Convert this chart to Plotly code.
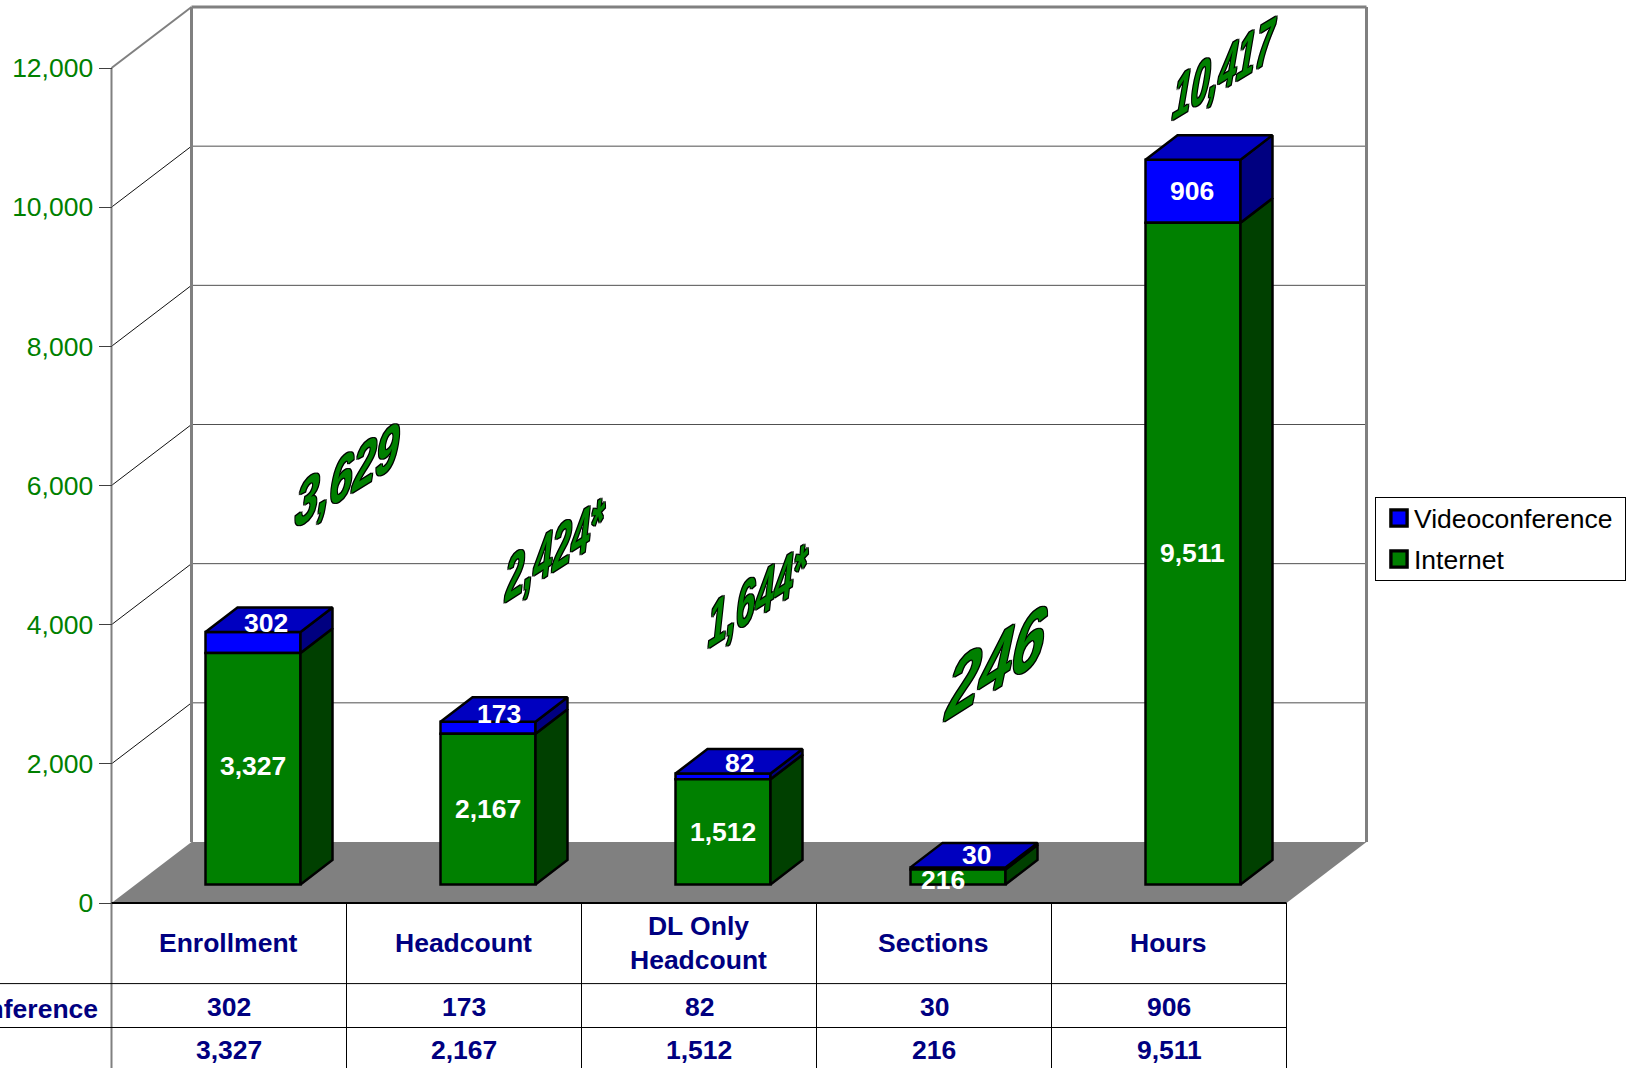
import json
import plotly.graph_objects as go

CATEGORIES = ["Enrollment", "Headcount", "DL Only<br>Headcount", "Sections", "Hours"]
VIDEOCONFERENCE = [302, 173, 82, 30, 906]
INTERNET = [3327, 2167, 1512, 216, 9511]
TOTAL_LABELS = ["3,629", "2,424*", "1,644*", "246", "10,417"]
Y_TICKS = [0, 2000, 4000, 6000, 8000, 10000, 12000]

W, H = 1632, 1068
FONT = "Liberation Sans"
FS = 26.5
GREEN, GREEN_D = "#008000", "#004000"
BLUE, BLUE_M, BLUE_D = "#0000FF", "#0000C0", "#000080"
NAVY = "#000080"

# axis calibration (pixel position of the category band and the value scale)
X0_PX, CAT_PX, Y0_PX = 111.5, 235.0, 903.0
S = 835.0 / 12000
x_range = [(0 - X0_PX) / CAT_PX - 0.5, (W - X0_PX) / CAT_PX - 0.5]
y_range = [(Y0_PX - H) / S, Y0_PX / S]
XL, XR = -0.5, 4.5
DX, DY = 80 / CAT_PX, 61 / S            # wall depth
BAR_DX, BAR_DY = 24 / CAT_PX, 18.5 / S  # bars sit inside the floor depth
SIDE_DX, SIDE_DY = 32 / CAT_PX, 24.5 / S
BAR_W = 95 / CAT_PX


def ypaper(p):
    return 1 - p / H


def xpaper(p):
    return p / W


fig = go.Figure()
shapes = []


def line(x0, y0, x1, y1, color, width, yref="y"):
    shapes.append(dict(type="line", xref="x", yref=yref, x0=x0, y0=y0, x1=x1, y1=y1,
                       line=dict(color=color, width=width), layer="below"))


# floor
shapes.append(dict(type="path", xref="x", yref="y", layer="below", fillcolor="#808080",
                   line=dict(width=0),
                   path=f"M{XL},0 L{XR},0 L{XR + DX},{DY} L{XL + DX},{DY} Z"))
# walls and grid
for v in Y_TICKS[1:-1]:
    line(XL + DX, v + DY, XR + DX, v + DY, "#505050", 1)
    line(XL, v, XL + DX, v + DY, "#101010", 1)
line(XL + DX, DY, XL + DX, 12000 + DY, "#808080", 3)
line(XR + DX, DY, XR + DX, 12000 + DY, "#808080", 3)
line(XL + DX, 12000 + DY, XR + DX, 12000 + DY, "#808080", 3)
line(XL, 12000, XL + DX, 12000 + DY, "#808080", 2)
line(XL, y_range[0], XL, 12000, "#808080", 2)
line(XL, 0, XR, 0, "#000000", 2)

# data table
for k in range(1, 6):
    xk = XL + k
    shapes.append(dict(type="line", xref="x", yref="y", x0=xk, x1=xk, y0=y_range[0], y1=0,
                       line=dict(color="#000000", width=1)))
for p in (983.6, 1027.5):
    shapes.append(dict(type="line", xref="x", yref="paper", x0=x_range[0], x1=XR,
                       y0=ypaper(p), y1=ypaper(p), line=dict(color="#000000", width=1)))

# front faces
xs = [i + BAR_DX for i in range(5)]
fig.add_trace(go.Bar(name="Videoconference", x=xs, y=VIDEOCONFERENCE,
                     base=[BAR_DY + v for v in INTERNET], width=BAR_W,
                     marker=dict(color=BLUE, line=dict(color="#000", width=2.5))))
fig.add_trace(go.Bar(name="Internet", x=xs, y=INTERNET, base=BAR_DY, width=BAR_W,
                     marker=dict(color=GREEN, line=dict(color="#000", width=2.5))))


def face(px, py, color):
    fig.add_trace(go.Scatter(x=px, y=py, mode="lines", fill="toself", fillcolor=color,
                             line=dict(color="#000", width=2.5), showlegend=False,
                             hoverinfo="skip"))


# side and top faces derived from the same values
for i in range(5):
    xr = xs[i] + BAR_W / 2
    xl = xs[i] - BAR_W / 2
    b0 = BAR_DY
    b1 = BAR_DY + INTERNET[i]
    b2 = b1 + VIDEOCONFERENCE[i]
    face([xr, xr + SIDE_DX, xr + SIDE_DX, xr, xr],
         [b0, b0 + SIDE_DY, b1 + SIDE_DY, b1, b0], GREEN_D)
    face([xr, xr + SIDE_DX, xr + SIDE_DX, xr, xr],
         [b1, b1 + SIDE_DY, b2 + SIDE_DY, b2, b1], BLUE_D)
    face([xl, xl + SIDE_DX, xr + SIDE_DX, xr, xl],
         [b2, b2 + SIDE_DY, b2 + SIDE_DY, b2, b2], BLUE_M)

ann = []


def text(s, x, y, color, size=FS, weight=700, xref="x", yref="y", xanchor="center",
         xshift=0, yshift=0):
    ann.append(dict(text=s, x=x, y=y, xref=xref, yref=yref, showarrow=False,
                    xanchor=xanchor, yanchor="middle", xshift=xshift, yshift=yshift,
                    font=dict(family=FONT, size=size, color=color, weight=weight)))


# value labels on the bars (a few are nudged as in the original)
INET_NUDGE = [(0, 2.5), (0, 0), (0, 0), (-15, -3), (-1, 1)]
VID_NUDGE = [(13, 19), (11, 14), (16, 13), (18, 13), (-1, 0)]
for i in range(5):
    b1 = BAR_DY + INTERNET[i]
    b2 = b1 + VIDEOCONFERENCE[i]
    text(f"{INTERNET[i]:,}", xs[i], BAR_DY + INTERNET[i] / 2, "#FFFFFF",
         xshift=INET_NUDGE[i][0], yshift=INET_NUDGE[i][1])
    text(f"{VIDEOCONFERENCE[i]:,}", xs[i], b1 + VIDEOCONFERENCE[i] / 2, "#FFFFFF",
         xshift=VID_NUDGE[i][0], yshift=VID_NUDGE[i][1])
    # table cells
    text(CATEGORIES[i], i, ypaper(942.5), NAVY, yref="paper", xshift=-1)
    text(f"{VIDEOCONFERENCE[i]:,}", i, ypaper(1006.5), NAVY, yref="paper")
    text(f"{INTERNET[i]:,}", i, ypaper(1050), NAVY, yref="paper")
text("Videoconference", xpaper(100), ypaper(1008.5), NAVY, xref="paper", yref="paper",
     xanchor="right")

# large slanted totals: text centre in pixels and its warp matrix
TOTAL_CENTRE = [(347.5, 474), (554.5, 549), (758, 595), (997, 661), (1224, 68)]
WARP = {
    "3,629": [1.03, -0.64, -0.28, 1.70],
    "2,424*": [0.85, -0.54, -0.18, 1.66],
    "1,644*": [0.85, -0.54, -0.18, 1.66],
    "246": [1.48, -0.93, -0.47, 2.22],
    "10,417": [0.82, -0.50, -0.28, 1.64],
}
for label, (cx, cy) in zip(TOTAL_LABELS, TOTAL_CENTRE):
    text(label, xpaper(cx), ypaper(cy), GREEN, size=40, xref="paper", yref="paper")

fig.update_layout(
    width=W, height=H, margin=dict(l=0, r=0, t=0, b=0, pad=0, autoexpand=False),
    paper_bgcolor="#FFFFFF", plot_bgcolor="#FFFFFF", barmode="overlay",
    font=dict(family=FONT, size=FS),
    shapes=shapes, annotations=ann,
    xaxis=dict(range=x_range, visible=False, domain=[0, 1], fixedrange=True),
    yaxis=dict(range=y_range, domain=[0, 1], anchor="free", position=X0_PX / W,
               tickmode="array", tickvals=Y_TICKS, ticktext=[f"{v:,}" for v in Y_TICKS],
               ticks="outside", ticklen=13, tickwidth=1, tickcolor="#404040",
               tickfont=dict(family=FONT, size=FS, color=GREEN), showgrid=False,
               zeroline=False, showline=False, fixedrange=True, automargin=False),
    legend=dict(x=xpaper(1375), y=ypaper(497), xanchor="left", yanchor="top",
                bgcolor="#FFFFFF", bordercolor="#000000", borderwidth=1,
                font=dict(family=FONT, size=FS, color="#000000"), traceorder="normal"),
    showlegend=True, hovermode=False,
)

post = """
document.body.style.margin='0';document.body.style.overflow='hidden';
var gd=document.getElementById('{plot_id}');
var warp=%s;
var svg=gd.querySelector('svg.main-svg');
var NS='http://www.w3.org/2000/svg';
var defs=document.createElementNS(NS,'defs');
defs.innerHTML='<filter id="wordart" x="-15%%" y="-15%%" width="130%%" height="130%%" color-interpolation-filters="sRGB">'
 +'<feMorphology in="SourceGraphic" operator="dilate" radius="0.3" result="g"/>'
 +'<feMorphology in="SourceAlpha" operator="dilate" radius="1.1" result="o"/>'
 +'<feMerge><feMergeNode in="o"/><feMergeNode in="g"/></feMerge></filter>';
svg.appendChild(defs);
gd.querySelectorAll('.annotation-text').forEach(function(t){
  var m=warp[t.textContent];
  if(!m){return;}
  var b=t.getBBox(),cx=b.x+b.width/2,cy=b.y+b.height/2;
  t.setAttribute('transform','translate('+cx+' '+cy+') matrix('+m.join(' ')+' 0 0) translate('+(-cx)+' '+(-cy)+')');
  t.parentNode.setAttribute('filter','url(#wordart)');
});
var lg=gd.querySelector('.legend');
if(lg){
  var tr=lg.querySelectorAll('.traces');
  var ys=[20,61];
  tr.forEach(function(g,i){
    g.setAttribute('transform','translate(-1,'+(ys[i]+1)+')');
    var p=g.querySelector('.legendpoints');
    if(p){p.setAttribute('transform','translate(-2,0) scale(1.35)');}
  });
  var bg=lg.querySelector('.bg');
  if(bg){bg.setAttribute('width','250');bg.setAttribute('height','83');}
}
""" % json.dumps(WARP)

fig.write_html("out.html", post_script=post, config={"displayModeBar": False})
